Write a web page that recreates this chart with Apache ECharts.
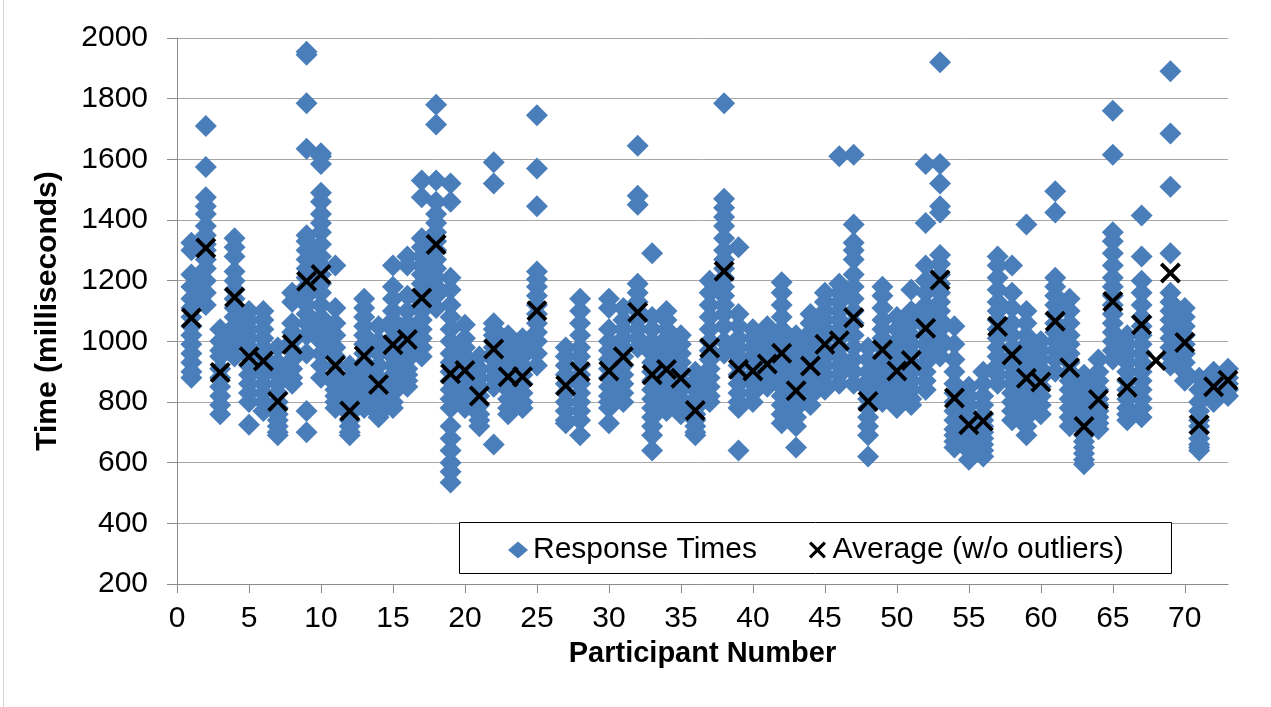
<!DOCTYPE html>
<html>
<head>
<meta charset="utf-8">
<title>Response Times by Participant</title>
<script src="https://cdn.jsdelivr.net/npm/echarts@6/dist/echarts.min.js"></script>
<style>
  html, body { margin: 0; padding: 0; background: #ffffff; }
  #chart { width: 1271px; height: 707px; }
</style>
</head>
<body>
<div id="chart"></div>
<script>
// Individual response times (ms), one list per participant (index 0 = participant 1)
const responseTimes = [
  [1325, 1300, 1220, 1180, 1140, 1110, 1080, 1050, 1020, 990, 960, 930, 900, 880],
  [1710, 1575, 1475, 1445, 1420, 1380, 1350, 1320, 1300, 1270, 1240, 1200, 1160, 1120],
  [1040, 1000, 970, 950, 910, 880, 850, 820, 790, 760],
  [1340, 1310, 1280, 1230, 1200, 1170, 1140, 1110, 1080, 1050, 1020, 990, 950],
  [1100, 1070, 1040, 1010, 980, 950, 920, 890, 860, 830, 800, 725],
  [1100, 1070, 1040, 1010, 980, 950, 920, 890, 860, 830, 800, 770],
  [980, 930, 890, 860, 830, 800, 780, 760, 740, 720, 700, 690],
  [1160, 1130, 1060, 1030, 1000, 970, 940, 910, 880, 860],
  [1955, 1945, 1785, 1635, 1350, 1330, 1300, 1270, 1240, 1210, 1180, 1150, 1120, 1090, 1060, 1020, 960, 770, 700],
  [1620, 1610, 1585, 1490, 1460, 1420, 1390, 1360, 1320, 1280, 1250, 1220, 1190, 1160, 1120, 1080, 1040, 1000, 960, 920, 880],
  [1250, 1110, 1060, 1020, 980, 950, 920, 890, 860, 840, 820, 800, 780],
  [920, 880, 850, 820, 790, 760, 740, 720, 700, 690],
  [1140, 1110, 1080, 1050, 1020, 990, 960, 930, 900, 870, 840, 810, 780],
  [1050, 1000, 960, 920, 880, 850, 830, 810, 790, 770, 760, 750],
  [1250, 1180, 1140, 1100, 1070, 1040, 1010, 980, 950, 920, 890, 860, 830, 800, 780],
  [1280, 1250, 1150, 1100, 1060, 1030, 1000, 970, 940, 910, 890, 870, 850],
  [1530, 1475, 1340, 1310, 1280, 1250, 1220, 1190, 1160, 1130, 1100, 1070, 1040, 1010, 980, 950],
  [1780, 1715, 1530, 1460, 1420, 1390, 1360, 1330, 1300, 1270, 1240, 1210, 1180, 1150, 1110],
  [1520, 1460, 1210, 1170, 1120, 1080, 1040, 1000, 960, 930, 900, 870, 840, 810, 780, 720, 680, 640, 600, 570, 535],
  [1055, 1010, 980, 950, 920, 890, 860, 830, 800, 780],
  [950, 910, 880, 850, 820, 790, 760, 740, 720],
  [1590, 1520, 1060, 1040, 1020, 1000, 980, 960, 940, 910, 880, 850, 660],
  [1020, 990, 960, 930, 900, 870, 840, 810, 780, 760],
  [1010, 980, 950, 920, 890, 860, 830, 800, 780],
  [1745, 1570, 1445, 1230, 1205, 1180, 1150, 1120, 1090, 1060, 1030, 1000, 960, 920],
  [],
  [980, 950, 920, 890, 860, 830, 800, 770, 740, 730],
  [1140, 1100, 1060, 1020, 980, 950, 920, 890, 860, 830, 800, 770, 740, 690],
  [],
  [1140, 1110, 1040, 1000, 970, 940, 910, 880, 850, 820, 800, 780, 730],
  [1110, 1070, 1040, 1010, 980, 950, 920, 890, 860, 830, 800],
  [1645, 1480, 1450, 1190, 1160, 1130, 1100, 1070, 1040, 1010, 980],
  [1290, 1080, 1040, 1000, 960, 930, 900, 870, 840, 810, 780, 750, 720, 690, 640],
  [1100, 1070, 1040, 1010, 980, 950, 920, 890, 860, 830, 800, 770],
  [1020, 990, 960, 930, 900, 870, 840, 810, 780, 760],
  [900, 870, 840, 810, 780, 760, 740, 720, 700, 690],
  [1200, 1160, 1120, 1080, 1040, 1000, 970, 940, 910, 880, 850, 820, 800],
  [1785, 1470, 1440, 1410, 1380, 1340, 1300, 1270, 1240, 1210, 1180, 1150, 1120, 1090, 1050, 1000, 960],
  [1310, 1090, 1050, 1010, 980, 950, 920, 890, 860, 830, 800, 780, 640],
  [1040, 1010, 980, 950, 920, 890, 860, 830, 800],
  [1050, 1020, 990, 960, 930, 900, 870, 850],
  [1195, 1160, 1120, 1080, 1040, 1000, 970, 940, 910, 880, 850, 820, 790, 760, 730],
  [1020, 990, 960, 930, 900, 870, 840, 810, 780, 750, 720, 650],
  [1090, 1060, 1030, 1000, 970, 940, 910, 880, 850, 820, 790],
  [1160, 1130, 1100, 1070, 1040, 1010, 980, 950, 920, 890, 860, 840],
  [1610, 1190, 1160, 1130, 1100, 1070, 1040, 1010, 980, 950, 920, 890, 860],
  [1615, 1385, 1325, 1300, 1270, 1220, 1180, 1140, 1100, 1060, 1020, 980, 940, 900, 860],
  [980, 940, 900, 870, 840, 810, 780, 750, 720, 690, 620],
  [1180, 1150, 1110, 1070, 1040, 1010, 980, 950, 920, 890, 860, 830, 800],
  [1080, 1040, 1000, 970, 940, 910, 880, 850, 830, 810, 790, 780],
  [1170, 1100, 1060, 1020, 990, 960, 930, 900, 870, 840, 810, 790],
  [1585, 1390, 1250, 1200, 1160, 1120, 1080, 1050, 1020, 990, 960, 930, 900, 870, 840],
  [1920, 1585, 1520, 1445, 1425, 1285, 1255, 1220, 1190, 1160, 1130, 1100, 1070, 1040, 1010, 980, 950],
  [1050, 990, 940, 900, 860, 830, 800, 770, 740, 710, 690, 670, 650],
  [850, 820, 790, 760, 740, 720, 700, 680, 660, 640, 610],
  [900, 860, 820, 790, 760, 740, 720, 700, 680, 660, 640, 620],
  [1280, 1250, 1210, 1170, 1130, 1100, 1070, 1040, 1010, 980, 950, 920, 890, 860],
  [1250, 1160, 1110, 1060, 1020, 980, 950, 920, 890, 860, 830, 800, 770, 740],
  [1385, 1100, 1060, 1020, 990, 960, 930, 900, 870, 840, 810, 780, 750, 720, 690],
  [1000, 970, 940, 910, 880, 850, 820, 790, 760],
  [1495, 1425, 1210, 1180, 1150, 1120, 1090, 1060, 1030, 1000, 970, 940, 900],
  [1140, 1100, 1060, 1020, 990, 960, 930, 900, 870, 840, 810, 780, 750, 720],
  [890, 860, 830, 800, 770, 740, 710, 690, 670, 650, 630, 610, 595],
  [940, 900, 870, 840, 810, 790, 770, 750, 730, 710],
  [1760, 1615, 1360, 1330, 1290, 1250, 1210, 1180, 1150, 1120, 1090, 1060, 1030, 1000, 970, 940],
  [1020, 990, 960, 930, 900, 870, 840, 810, 780, 760, 740],
  [1415, 1280, 1200, 1160, 1120, 1080, 1050, 1020, 990, 960, 930, 900, 870, 840, 810, 780, 750],
  [],
  [1890, 1685, 1510, 1290, 1160, 1130, 1100, 1070, 1040, 1010, 980, 950, 920],
  [1110, 1080, 1050, 1020, 990, 960, 930, 900, 870],
  [880, 840, 800, 770, 740, 720, 700, 680, 660, 650, 640],
  [900, 880, 860, 840, 820, 800],
  [910, 880, 860, 840, 820]
];

// Per-participant average with outliers removed (null = no data)
const averageTimes = [
  1077, 1308, 897, 1145, 949, 935, 802, 990, 1198, 1220,
  920, 770, 952, 858, 989, 1006, 1143, 1319, 893, 904,
  820, 975, 883, 883, 1101, null, 854, 900, null, 902,
  949, 1096, 890, 907, 878, 772, 978, 1231, 908, 902,
  925, 961, 837, 919, 990, 1002, 1078, 802, 972, 902,
  937, 1043, 1202, 813, 725, 737, 1049, 955, 878, 866,
  1066, 913, 719, 808, 1131, 849, 1055, 937, 1225, 996,
  725, 850, 872
];

const xTickValues = [0, 5, 10, 15, 20, 25, 30, 35, 40, 45, 50, 55, 60, 65, 70];
const seriesNames = ['Response Times', 'Average (w/o outliers)'];

const FONT = 'Arial, "Liberation Sans", sans-serif';
// Bold "x" marker drawn as a filled outline
const CROSS = 'path://M0,13L13,0L50,37L87,0L100,13L63,50L100,87L87,100L50,63L13,100L0,87L37,50Z';
const AXIS_GRAY = '#8c8c8c';

const responsePoints = [];
responseTimes.forEach((list, i) => {
  list.forEach(v => responsePoints.push([i + 1, v]));
});
const averagePoints = [];
averageTimes.forEach((v, i) => {
  if (v !== null) averagePoints.push([i + 1, v]);
});

const chart = echarts.init(document.getElementById('chart'), null, { renderer: 'canvas' });

chart.setOption({
  animation: false,
  backgroundColor: '#ffffff',
  textStyle: { fontFamily: FONT },
  grid: { left: 177, right: 43, top: 38, bottom: 123 },
  xAxis: {
    type: 'value',
    min: 0,
    max: 73,
    interval: 5,
    name: 'Participant Number',
    nameLocation: 'middle',
    nameGap: 55,
    nameTextStyle: { fontFamily: FONT, fontSize: 29, fontWeight: 'bold', color: '#000' },
    axisLine: { show: true, onZero: false, lineStyle: { color: AXIS_GRAY, width: 1 } },
    axisTick: { show: true, length: 9, lineStyle: { color: AXIS_GRAY }, customValues: xTickValues },
    axisLabel: { fontFamily: FONT, fontSize: 30, color: '#000', margin: 20, customValues: xTickValues },
    splitLine: { show: false }
  },
  yAxis: {
    type: 'value',
    min: 200,
    max: 2000,
    interval: 200,
    name: 'Time (milliseconds)',
    nameLocation: 'middle',
    nameGap: 114,
    nameTextStyle: { fontFamily: FONT, fontSize: 30, fontWeight: 'bold', color: '#000' },
    axisLine: { show: true, onZero: false, lineStyle: { color: AXIS_GRAY, width: 1 } },
    axisTick: { show: true, length: 10, lineStyle: { color: AXIS_GRAY } },
    axisLabel: {
      fontFamily: FONT, fontSize: 30, color: '#000', margin: 29,
      formatter: v => String(v)
    },
    splitLine: { show: true, lineStyle: { color: '#a6a6a6', width: 1 } }
  },
  legend: {
    data: [
      { name: seriesNames[0], icon: 'diamond' },
      { name: seriesNames[1], icon: CROSS }
    ],
    left: 503,
    top: 530,
    itemWidth: 20,
    itemHeight: 17,
    itemGap: 52,
    selectedMode: false,
    textStyle: { fontFamily: FONT, fontSize: 30, color: '#000' },
    z: 10
  },
  graphic: [
    {
      type: 'rect',
      z: 5,
      shape: { x: 459.5, y: 522.5, width: 712, height: 51 },
      style: { fill: '#ffffff', stroke: '#000000', lineWidth: 1 }
    },
    {
      type: 'line',
      z: 5,
      shape: { x1: 3.5, y1: 0, x2: 3.5, y2: 707 },
      style: { stroke: '#d4d4d4', lineWidth: 1 }
    }
  ],
  series: [
    {
      name: seriesNames[0],
      type: 'scatter',
      symbol: 'diamond',
      symbolSize: 22,
      itemStyle: { color: '#4a7ebb', opacity: 1 },
      data: responsePoints,
      z: 2
    },
    {
      name: seriesNames[1],
      type: 'scatter',
      symbol: CROSS,
      symbolSize: 21,
      itemStyle: { color: '#000000', opacity: 1 },
      data: averagePoints,
      z: 3
    }
  ]
});
</script>
</body>
</html>
